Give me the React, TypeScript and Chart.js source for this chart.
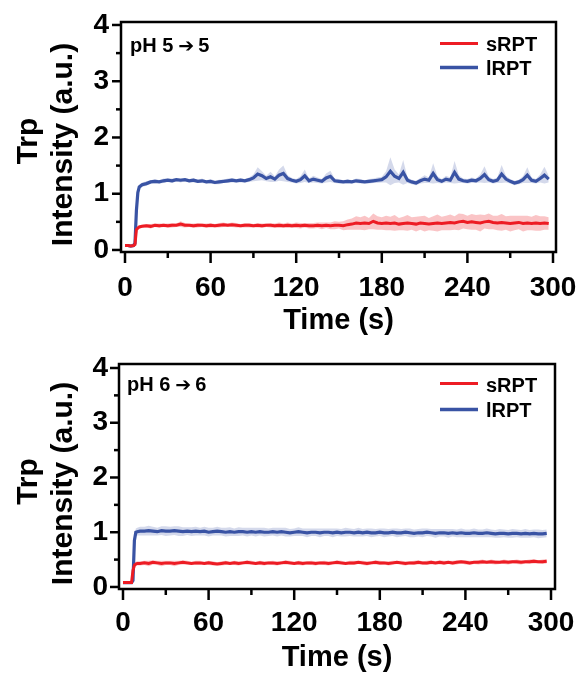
import { useEffect, useRef } from "react";
import { Chart, registerables } from "chart.js";

Chart.register(...registerables);

// ---------------- data ----------------
const time = [
  0, 2, 4, 6, 7, 8, 9, 10, 12,
  15, 18, 21, 24, 27, 30, 33, 36, 39, 42,
  45, 48, 51, 54, 57, 60, 63, 66, 69, 72,
  75, 78, 81, 84, 87, 90, 93, 96, 99, 102,
  105, 108, 111, 114, 117, 120, 123, 126, 129, 132,
  135, 138, 141, 144, 147, 150, 153, 156, 159, 162,
  165, 168, 171, 174, 177, 180, 183, 186, 189, 192,
  195, 198, 201, 204, 207, 210, 213, 216, 219, 222,
  225, 228, 231, 234, 237, 240, 243, 246, 249, 252,
  255, 258, 261, 264, 267, 270, 273, 276, 279, 282,
  285, 288, 291, 294, 297,
];

// pH 5 -> 5
const sRPT_pH5 = [
  0.08, 0.08, 0.07, 0.08, 0.10, 0.36, 0.39, 0.41, 0.42,
  0.43, 0.42, 0.44, 0.43, 0.44, 0.43, 0.44, 0.44, 0.46, 0.44,
  0.44, 0.43, 0.44, 0.44, 0.43, 0.44, 0.43, 0.44, 0.45, 0.44,
  0.45, 0.44, 0.43, 0.44, 0.44, 0.43, 0.44, 0.43, 0.44, 0.44,
  0.43, 0.44, 0.43, 0.44, 0.43, 0.44, 0.43, 0.44, 0.43, 0.43,
  0.44, 0.43, 0.44, 0.43, 0.44, 0.44, 0.43, 0.45, 0.46, 0.48,
  0.47, 0.48, 0.47, 0.51, 0.48, 0.47, 0.48, 0.47, 0.48, 0.46,
  0.47, 0.48, 0.47, 0.46, 0.48, 0.47, 0.46, 0.47, 0.48, 0.47,
  0.48, 0.49, 0.48, 0.50, 0.51, 0.49, 0.50, 0.49, 0.48, 0.50,
  0.51, 0.49, 0.48, 0.49, 0.48, 0.47, 0.48, 0.49, 0.47, 0.48,
  0.47, 0.48, 0.47, 0.48, 0.47,
];
const sRPT_pH5_sd = [
  0.01, 0.01, 0.01, 0.01, 0.02, 0.03, 0.03, 0.03, 0.03,
  0.03, 0.04, 0.03, 0.04, 0.03, 0.04, 0.04, 0.03, 0.05, 0.04,
  0.03, 0.04, 0.04, 0.03, 0.04, 0.04, 0.03, 0.04, 0.04, 0.03,
  0.04, 0.04, 0.03, 0.04, 0.04, 0.03, 0.04, 0.04, 0.03, 0.04,
  0.04, 0.05, 0.04, 0.05, 0.04, 0.05, 0.05, 0.04, 0.05, 0.05,
  0.05, 0.06, 0.05, 0.06, 0.07, 0.06, 0.08, 0.09, 0.10, 0.12,
  0.11, 0.13, 0.10, 0.14, 0.12, 0.11, 0.13, 0.12, 0.14, 0.11,
  0.12, 0.14, 0.11, 0.13, 0.12, 0.14, 0.11, 0.13, 0.15, 0.12,
  0.13, 0.14, 0.12, 0.15, 0.13, 0.12, 0.14, 0.13, 0.15, 0.12,
  0.14, 0.12, 0.13, 0.15, 0.12, 0.14, 0.13, 0.12, 0.14, 0.13,
  0.12, 0.14, 0.13, 0.12, 0.11,
];
const lRPT_pH5 = [
  0.08, 0.08, 0.07, 0.08, 0.12, 0.70, 1.02, 1.12, 1.16,
  1.18, 1.21, 1.22, 1.21, 1.23, 1.24, 1.23, 1.25, 1.24, 1.25,
  1.23, 1.24, 1.22, 1.23, 1.21, 1.22, 1.20, 1.21, 1.22, 1.23,
  1.24, 1.23, 1.24, 1.23, 1.25, 1.28, 1.35, 1.32, 1.27, 1.30,
  1.26, 1.33, 1.36, 1.27, 1.24, 1.22, 1.25, 1.32, 1.23, 1.26,
  1.24, 1.22, 1.28, 1.31, 1.23, 1.22, 1.21, 1.22, 1.21, 1.23,
  1.22, 1.21, 1.22, 1.23, 1.24, 1.25, 1.30, 1.40, 1.31, 1.27,
  1.38, 1.24, 1.21, 1.19, 1.23, 1.26, 1.24, 1.36, 1.25, 1.22,
  1.26, 1.24, 1.38, 1.26, 1.23, 1.22, 1.24, 1.23, 1.27, 1.34,
  1.25, 1.22, 1.24, 1.35, 1.26, 1.22, 1.19, 1.21, 1.25, 1.33,
  1.24, 1.22, 1.27, 1.33, 1.26,
];
const lRPT_pH5_sd = [
  0.01, 0.01, 0.01, 0.01, 0.02, 0.05, 0.05, 0.04, 0.04,
  0.04, 0.03, 0.04, 0.03, 0.04, 0.03, 0.04, 0.03, 0.04, 0.03,
  0.03, 0.04, 0.03, 0.04, 0.03, 0.04, 0.03, 0.04, 0.03, 0.04,
  0.04, 0.03, 0.04, 0.03, 0.04, 0.06, 0.12, 0.08, 0.05, 0.09,
  0.05, 0.10, 0.14, 0.06, 0.04, 0.04, 0.06, 0.11, 0.04, 0.06,
  0.05, 0.04, 0.08, 0.10, 0.04, 0.04, 0.03, 0.04, 0.03, 0.04,
  0.04, 0.03, 0.04, 0.04, 0.05, 0.05, 0.10, 0.25, 0.12, 0.07,
  0.22, 0.05, 0.04, 0.04, 0.05, 0.07, 0.05, 0.18, 0.06, 0.04,
  0.06, 0.05, 0.20, 0.07, 0.04, 0.04, 0.05, 0.04, 0.07, 0.15,
  0.05, 0.04, 0.05, 0.16, 0.06, 0.04, 0.04, 0.04, 0.06, 0.14,
  0.05, 0.04, 0.07, 0.15, 0.06,
];

// pH 6 -> 6
const sRPT_pH6 = [
  0.08, 0.08, 0.08, 0.08, 0.30, 0.40, 0.42, 0.43, 0.43,
  0.44, 0.43, 0.45, 0.44, 0.43, 0.44, 0.44, 0.43, 0.44, 0.45,
  0.44, 0.43, 0.44, 0.44, 0.43, 0.44, 0.43, 0.42, 0.43, 0.44,
  0.43, 0.44, 0.43, 0.44, 0.45, 0.44, 0.43, 0.44, 0.43, 0.44,
  0.44, 0.43, 0.44, 0.45, 0.44, 0.43, 0.44, 0.43, 0.44, 0.44,
  0.43, 0.44, 0.44, 0.43, 0.44, 0.45, 0.44, 0.43, 0.44, 0.44,
  0.45, 0.44, 0.43, 0.44, 0.45, 0.44, 0.44, 0.43, 0.44, 0.45,
  0.44, 0.43, 0.44, 0.44, 0.45, 0.44, 0.44, 0.45, 0.44, 0.45,
  0.44, 0.45, 0.44, 0.45, 0.46, 0.45, 0.44, 0.45, 0.45, 0.46,
  0.45, 0.46, 0.45, 0.45, 0.46, 0.45, 0.46, 0.46, 0.45, 0.46,
  0.46, 0.47, 0.46, 0.46, 0.47,
];
const sRPT_pH6_sd = [
  0.01, 0.01, 0.01, 0.01, 0.03, 0.04, 0.04, 0.04, 0.04,
  0.04, 0.05, 0.04, 0.04, 0.05, 0.04, 0.04, 0.05, 0.04, 0.04,
  0.04, 0.03, 0.04, 0.04, 0.03, 0.04, 0.04, 0.03, 0.04, 0.04,
  0.03, 0.04, 0.04, 0.03, 0.04, 0.04, 0.03, 0.04, 0.04, 0.03,
  0.04, 0.04, 0.03, 0.04, 0.04, 0.03, 0.04, 0.04, 0.03, 0.04,
  0.04, 0.03, 0.04, 0.04, 0.03, 0.04, 0.04, 0.03, 0.04, 0.04,
  0.03, 0.04, 0.04, 0.03, 0.04, 0.04, 0.03, 0.04, 0.04, 0.03,
  0.04, 0.04, 0.03, 0.04, 0.04, 0.03, 0.04, 0.04, 0.03, 0.04,
  0.04, 0.03, 0.04, 0.04, 0.03, 0.04, 0.04, 0.03, 0.04, 0.04,
  0.03, 0.04, 0.04, 0.03, 0.04, 0.04, 0.03, 0.04, 0.04, 0.03,
  0.04, 0.04, 0.03, 0.04, 0.04,
];
const lRPT_pH6 = [
  0.08, 0.08, 0.08, 0.08, 0.12, 0.85, 1.00, 1.01, 1.02,
  1.02, 1.03, 1.02, 1.01, 1.03, 1.02, 1.02, 1.03, 1.02, 1.01,
  1.02, 1.01, 1.02, 1.01, 1.02, 1.00, 1.01, 1.02, 1.01, 1.00,
  1.01, 1.00, 1.01, 1.01, 1.00, 1.01, 1.00, 1.01, 1.00, 1.00,
  1.01, 1.00, 1.01, 1.00, 0.99, 1.00, 1.01, 1.00, 0.99, 1.00,
  1.00, 0.99, 1.00, 1.00, 0.99, 1.00, 0.99, 1.00, 1.00, 0.99,
  1.00, 0.99, 1.00, 0.99, 0.99, 1.00, 0.99, 0.99, 1.00, 0.99,
  0.99, 1.00, 0.99, 0.98, 0.99, 0.99, 1.00, 0.99, 0.98, 0.99,
  0.99, 0.98, 0.99, 0.98, 0.99, 0.98, 0.98, 0.99, 0.98, 0.98,
  0.99, 0.98, 0.97, 0.98, 0.98, 0.97, 0.98, 0.98, 0.97, 0.98,
  0.97, 0.98, 0.97, 0.97, 0.98,
];
const lRPT_pH6_sd = [
  0.01, 0.01, 0.01, 0.01, 0.02, 0.06, 0.07, 0.07, 0.08,
  0.08, 0.09, 0.08, 0.07, 0.08, 0.09, 0.08, 0.08, 0.09, 0.08,
  0.07, 0.08, 0.08, 0.07, 0.08, 0.08, 0.07, 0.08, 0.07, 0.08,
  0.08, 0.07, 0.08, 0.07, 0.08, 0.07, 0.08, 0.07, 0.08, 0.07,
  0.07, 0.08, 0.07, 0.08, 0.07, 0.07, 0.08, 0.07, 0.08, 0.07,
  0.07, 0.08, 0.07, 0.07, 0.08, 0.07, 0.07, 0.08, 0.07, 0.07,
  0.08, 0.07, 0.07, 0.08, 0.07, 0.07, 0.08, 0.07, 0.07, 0.08,
  0.07, 0.07, 0.08, 0.07, 0.07, 0.08, 0.07, 0.07, 0.08, 0.07,
  0.07, 0.08, 0.07, 0.07, 0.08, 0.07, 0.07, 0.08, 0.07, 0.07,
  0.08, 0.07, 0.07, 0.08, 0.07, 0.07, 0.08, 0.07, 0.07, 0.08,
  0.07, 0.07, 0.08, 0.07, 0.07,
];

const xTicks = [0, 60, 120, 180, 240, 300];
const xMinorTicks = [30, 90, 150, 210, 270];
const yTicks = [0, 1, 2, 3, 4];
const yMinorTicks = [0.5, 1.5, 2.5, 3.5];
const seriesNames = ["sRPT", "lRPT"];
// panel tags: [before arrow, arrow, after arrow]
const panelLabels = [
  ["pH 5", "\u2794", "5"],
  ["pH 6", "\u2794", "6"],
];
const xTitle = "Time (s)";
const yTitleLines = ["Trp", "Intensity (a.u.)"];

// ---------------- styles ----------------
const FONT = '"Liberation Sans", Arial, Helvetica, sans-serif';
const ARROW_FONT = '"DejaVu Sans", sans-serif';
const RED = "#ED1C24";
const BLUE = "#3953A4";
const RED_BAND = "rgba(237,28,36,0.26)";
const BLUE_BAND = "rgba(57,83,164,0.22)";
const W = 579;

type PanelCfg = {
  label: string[];
  red: number[];
  redSd: number[];
  blue: number[];
  blueSd: number[];
  top: number;
  height: number;
  area: { left: number; right: number; top: number; bottom: number };
  xMin: number;
  xMax: number;
  yMin: number;
  yMax: number;
  yLabelPad: number;
  xLabelPad: number;
  xTitlePad: number;
  yTitle: { trpX: number; trpY: number; intX: number; intY: number };
  tag: { x: number; y: number };
  legend: { redY: number; blueY: number; textRedY: number; textBlueY: number };
};

const panels: PanelCfg[] = [
  {
    label: panelLabels[0],
    red: sRPT_pH5,
    redSd: sRPT_pH5_sd,
    blue: lRPT_pH5,
    blueSd: lRPT_pH5_sd,
    top: 0,
    height: 338,
    area: { left: 121, right: 556, top: 22, bottom: 252 },
    xMin: -2.8,
    xMax: 302.1,
    yMin: -0.036,
    yMax: 4.053,
    yLabelPad: 12,
    xLabelPad: 22,
    xTitlePad: 3,
    yTitle: { trpX: 37, trpY: 141, intX: 72, intY: 144.5 },
    tag: { x: 130, y: 52 },
    legend: { redY: 43.5, blueY: 67.5, textRedY: 50.5, textBlueY: 74.5 },
  },
  {
    label: panelLabels[1],
    red: sRPT_pH6,
    redSd: sRPT_pH6_sd,
    blue: lRPT_pH6,
    blueSd: lRPT_pH6_sd,
    top: 338,
    height: 339,
    area: { left: 119, right: 555, top: 26, bottom: 251 },
    xMin: -2.8,
    xMax: 302.8,
    yMin: -0.037,
    yMax: 4.073,
    yLabelPad: 11,
    xLabelPad: 20,
    xTitlePad: 5,
    yTitle: { trpX: 37, trpY: 143.5, intX: 72, intY: 145.5 },
    tag: { x: 127, y: 53 },
    legend: { redY: 45.5, blueY: 71.5, textRedY: 53.5, textBlueY: 78.5 },
  },
];

function PanelChart({ p }: { p: PanelCfg }) {
  const ref = useRef<HTMLCanvasElement>(null);

  useEffect(() => {
    const canvas = ref.current;
    if (!canvas) return;

    const pts = (mean: number[], sd: number[] | null, sign: number) =>
      time.map((t, i) => ({ x: t, y: mean[i] + (sd ? sign * sd[i] : 0) }));

    const framePlugin = {
      id: "frameTicks",
      afterDraw(chart: any) {
        const { ctx, chartArea: a, scales } = chart;
        const xs = scales.x;
        const ys = scales.y;
        ctx.save();
        ctx.strokeStyle = "#000";
        ctx.lineWidth = 2.5;
        ctx.lineCap = "butt";
        ctx.strokeRect(a.left, a.top, a.right - a.left, a.bottom - a.top);
        const seg = (x1: number, y1: number, x2: number, y2: number) => {
          ctx.beginPath();
          ctx.moveTo(x1, y1);
          ctx.lineTo(x2, y2);
          ctx.stroke();
        };
        xTicks.forEach((v) => {
          const px = xs.getPixelForValue(v);
          seg(px, a.bottom + 1, px, a.bottom + 11);
        });
        xMinorTicks.forEach((v) => {
          const px = xs.getPixelForValue(v);
          seg(px, a.bottom + 1, px, a.bottom + 6);
        });
        yTicks.forEach((v) => {
          const py = ys.getPixelForValue(v);
          seg(a.left - 9, py, a.left, py);
        });
        yMinorTicks.forEach((v) => {
          const py = ys.getPixelForValue(v);
          seg(a.left - 5, py, a.left, py);
        });

        // y title (two lines, rotated)
        ctx.fillStyle = "#000";
        ctx.font = `bold 30px ${FONT}`;
        ctx.textAlign = "center";
        ctx.textBaseline = "alphabetic";
        const rot = (text: string, x: number, y: number) => {
          ctx.save();
          ctx.translate(x, y);
          ctx.rotate(-Math.PI / 2);
          ctx.fillText(text, 0, 0);
          ctx.restore();
        };
        rot(yTitleLines[0], p.yTitle.trpX, p.yTitle.trpY);
        rot(yTitleLines[1], p.yTitle.intX, p.yTitle.intY);

        // panel tag: "pH n" + arrow + "n"
        ctx.textAlign = "left";
        let tx = p.tag.x;
        ctx.font = `bold 20px ${FONT}`;
        ctx.fillText(p.label[0], tx, p.tag.y);
        tx += ctx.measureText(p.label[0]).width + 5;
        ctx.font = `bold 19px ${ARROW_FONT}`;
        ctx.fillText(p.label[1], tx, p.tag.y);
        tx += ctx.measureText(p.label[1]).width + 4;
        ctx.font = `bold 20px ${FONT}`;
        ctx.fillText(p.label[2], tx, p.tag.y);

        // legend (from the two line datasets)
        const ds = chart.data.datasets;
        const items = [
          { d: ds[0], y: p.legend.redY, ty: p.legend.textRedY, lw: 3 },
          { d: ds[1], y: p.legend.blueY, ty: p.legend.textBlueY, lw: 3.5 },
        ];
        items.forEach((it) => {
          ctx.strokeStyle = it.d.borderColor;
          ctx.lineWidth = it.lw;
          seg(440, it.y, 478, it.y);
          ctx.fillStyle = "#000";
          ctx.font = `bold 20px ${FONT}`;
          ctx.fillText(it.d.label, 486, it.ty);
        });
        ctx.restore();
      },
    };

    const tickFont = { family: FONT, size: 28, weight: "bold" as const, lineHeight: 1 };

    // Chart.js draws dataset 0 on top: lines first, bands after.
    const chart = new Chart(canvas, {
      type: "line",
      data: {
        datasets: [
          {
            label: seriesNames[0],
            data: pts(p.red, null, 0),
            borderColor: RED,
            borderWidth: 3,
            pointRadius: 0,
            fill: false,
            tension: 0,
          },
          {
            label: seriesNames[1],
            data: pts(p.blue, null, 0),
            borderColor: BLUE,
            borderWidth: 3.2,
            pointRadius: 0,
            fill: false,
            tension: 0,
          },
          {
            label: "sRPT band+",
            data: pts(p.red, p.redSd, 1),
            borderWidth: 0,
            borderColor: "transparent",
            backgroundColor: RED_BAND,
            pointRadius: 0,
            fill: "+1",
            tension: 0,
          },
          {
            label: "sRPT band-",
            data: pts(p.red, p.redSd, -1),
            borderWidth: 0,
            borderColor: "transparent",
            pointRadius: 0,
            fill: false,
            tension: 0,
          },
          {
            label: "lRPT band+",
            data: pts(p.blue, p.blueSd, 1),
            borderWidth: 0,
            borderColor: "transparent",
            backgroundColor: BLUE_BAND,
            pointRadius: 0,
            fill: "+1",
            tension: 0,
          },
          {
            label: "lRPT band-",
            data: pts(p.blue, p.blueSd, -1),
            borderWidth: 0,
            borderColor: "transparent",
            pointRadius: 0,
            fill: false,
            tension: 0,
          },
        ],
      },
      options: {
        animation: false,
        responsive: false,
        devicePixelRatio: 1,
        events: [],
        layout: {
          padding: { left: 0, right: W - p.area.right, top: p.area.top, bottom: 0 },
        },
        plugins: {
          legend: { display: false },
          tooltip: { enabled: false },
          title: { display: false },
        },
        scales: {
          x: {
            type: "linear",
            min: p.xMin,
            max: p.xMax,
            bounds: "data",
            afterBuildTicks: (s: any) => {
              s.ticks = xTicks.map((v) => ({ value: v }));
            },
            afterFit: (s: any) => {
              s.height = p.height - p.area.bottom;
              s.paddingLeft = 0;
              s.paddingRight = 0;
              s.paddingTop = 0;
              s.paddingBottom = 0;
            },
            grid: { display: false, drawTicks: false },
            border: { display: false },
            ticks: {
              font: tickFont,
              color: "#000",
              padding: p.xLabelPad,
              maxRotation: 0,
              autoSkip: false,
            },
            title: {
              display: true,
              text: xTitle,
              color: "#000",
              font: { family: FONT, size: 29, weight: "bold", lineHeight: 1 },
              padding: { top: 0, bottom: p.xTitlePad },
            },
          },
          y: {
            type: "linear",
            min: p.yMin,
            max: p.yMax,
            bounds: "data",
            afterBuildTicks: (s: any) => {
              s.ticks = yTicks.map((v) => ({ value: v }));
            },
            afterFit: (s: any) => {
              s.width = p.area.left;
              s.paddingLeft = 0;
              s.paddingRight = 0;
              s.paddingTop = 0;
              s.paddingBottom = 0;
            },
            grid: { display: false, drawTicks: false },
            border: { display: false },
            ticks: {
              font: tickFont,
              color: "#000",
              padding: p.yLabelPad,
              autoSkip: false,
            },
          },
        },
      },
      plugins: [framePlugin],
    } as any);

    return () => chart.destroy();
  }, [p]);

  return (
    <canvas
      ref={ref}
      width={W}
      height={p.height}
      style={{
        position: "absolute",
        left: 0,
        top: p.top,
        width: W,
        height: p.height,
        display: "block",
      }}
    />
  );
}

export default function App() {
  return (
    <div
      style={{
        position: "absolute",
        left: 0,
        top: 0,
        width: W,
        height: 677,
        background: "#fff",
      }}
    >
      {panels.map((p, i) => (
        <PanelChart key={i} p={p} />
      ))}
    </div>
  );
}
